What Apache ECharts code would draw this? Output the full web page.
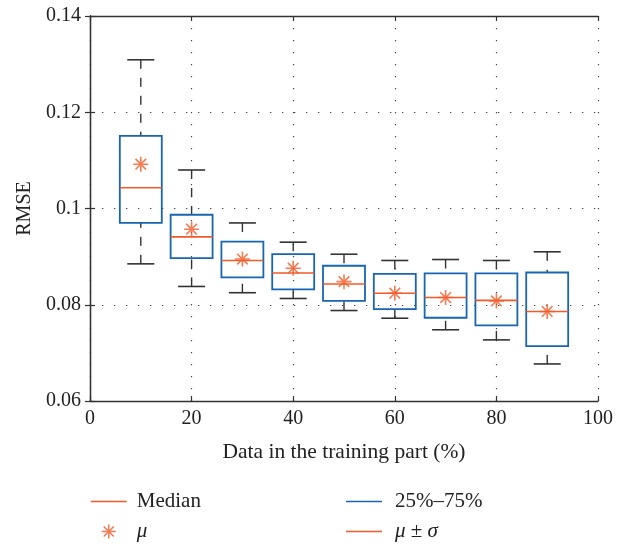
<!DOCTYPE html>
<html>
<head>
<meta charset="utf-8">
<script src="https://cdn.jsdelivr.net/npm/echarts@6/dist/echarts.min.js"></script>
<style>html,body{margin:0;padding:0;background:#fff}#c{width:623px;height:544px}</style>
</head>
<body>
<div id="c"></div>
<script>
// ---- data ----
const trainingPct   = [10, 20, 30, 40, 50, 60, 70, 80, 90];
const upperWhisker  = [0.1309, 0.1080, 0.0970, 0.0930, 0.0905, 0.0892, 0.0894, 0.0892, 0.0910];
const q3Values      = [0.1151, 0.0987, 0.0931, 0.0905, 0.0881, 0.0864, 0.0865, 0.0865, 0.0867];
const medianValues  = [0.1043, 0.0941, 0.0892, 0.0866, 0.0843, 0.0824, 0.0815, 0.0809, 0.0786];
const meanValues    = [0.1092, 0.0957, 0.0895, 0.0876, 0.0848, 0.0824, 0.0815, 0.0808, 0.0786];
const q1Values      = [0.0970, 0.0897, 0.0857, 0.0832, 0.0808, 0.0791, 0.0773, 0.0757, 0.0714];
const lowerWhisker  = [0.0885, 0.0838, 0.0825, 0.0813, 0.0788, 0.0772, 0.0748, 0.0727, 0.0677];
const xTicks = [0, 20, 40, 60, 80, 100];
const yTicks = [0.06, 0.08, 0.1, 0.12, 0.14];

// ---- styles ----
const ORANGE = '#f25a28';
const BLUE = '#1866b0';
const AXIS = '#333333';
const FONT = 'Liberation Serif';
const BOX_HALF = 4.13;   // half box width, in x-axis units
const CAP_HALF = 2.66;   // half cap width, in x-axis units

const rows = trainingPct.map((x, i) => [x, lowerWhisker[i], q1Values[i], medianValues[i], q3Values[i], upperWhisker[i]]);
const meanPts = trainingPct.map((x, i) => [x, meanValues[i]]);

const asterisk = 'path://M0,-10L0,10M-10,0L10,0M-7.07,-7.07L7.07,7.07M-7.07,7.07L7.07,-7.07';
const lineIcon = 'path://M0,0M36,14M0,6.25L36,6.25L36,7.75L0,7.75Z';
const starIcon = 'path://M0,0M36,14M18,0L18,14M11,7L25,7M13,2L23,12M13,12L23,2';

function whiskers(params, api) {
  const x = api.value(0);
  const pLo = api.coord([x, api.value(1)]);
  const pQ1 = api.coord([x, api.value(2)]);
  const pQ3 = api.coord([x, api.value(4)]);
  const pHi = api.coord([x, api.value(5)]);
  const hw = api.size([CAP_HALF, 0])[0];
  const dash = {stroke: AXIS, lineWidth: 1.4, lineDash: [9, 9]};
  const solid = {stroke: AXIS, lineWidth: 1.6};
  return {type: 'group', children: [
    {type: 'line', shape: {x1: pHi[0], y1: pHi[1], x2: pQ3[0], y2: pQ3[1]}, style: dash},
    {type: 'line', shape: {x1: pLo[0], y1: pLo[1], x2: pQ1[0], y2: pQ1[1]}, style: dash},
    {type: 'line', shape: {x1: pHi[0] - hw, y1: pHi[1], x2: pHi[0] + hw, y2: pHi[1]}, style: solid},
    {type: 'line', shape: {x1: pLo[0] - hw, y1: pLo[1], x2: pLo[0] + hw, y2: pLo[1]}, style: solid}
  ]};
}
function boxes(params, api) {
  const x = api.value(0);
  const pQ1 = api.coord([x, api.value(2)]);
  const pQ3 = api.coord([x, api.value(4)]);
  const hw = api.size([BOX_HALF, 0])[0];
  return {type: 'rect', shape: {x: pQ3[0] - hw, y: pQ3[1], width: 2 * hw, height: pQ1[1] - pQ3[1]},
          style: {fill: 'none', stroke: BLUE, lineWidth: 1.8}};
}
function medians(params, api) {
  const x = api.value(0);
  const p = api.coord([x, api.value(3)]);
  const hw = api.size([BOX_HALF, 0])[0];
  return {type: 'line', shape: {x1: p[0] - hw, y1: p[1], x2: p[0] + hw, y2: p[1]},
          style: {stroke: ORANGE, lineWidth: 1.6}};
}

const labelStyle = {fontFamily: FONT, fontSize: 20, color: '#222'};
const titleStyle = {fontFamily: FONT, fontSize: 21.5, color: '#222'};
const legendText = {fontFamily: FONT, fontSize: 21, color: '#222'};
const baseAxisLine = {show: true, lineStyle: {color: AXIS, width: 1.3}};
const tickIn = {show: true, inside: true, length: 5, lineStyle: {color: AXIS, width: 1.2}};
const dotted = {show: true, lineStyle: {color: '#444', width: 1.2, type: [1.3, 10.7]}};

const chart = echarts.init(document.getElementById('c'), null, {renderer: 'canvas'});
chart.setOption({
  animation: false,
  backgroundColor: '#fff',
  grid: {left: 90, right: 25, top: 16, bottom: 143},
  xAxis: [
    {type: 'value', min: xTicks[0], max: xTicks[xTicks.length - 1], interval: 20, position: 'bottom',
     name: 'Data in the training part (%)', nameLocation: 'middle', nameGap: 40,
     nameTextStyle: titleStyle,
     axisLine: baseAxisLine, axisTick: tickIn, axisLabel: Object.assign({margin: 8}, labelStyle),
     splitLine: dotted},
    {type: 'value', min: xTicks[0], max: xTicks[xTicks.length - 1], interval: 20, position: 'top',
     axisLine: baseAxisLine, axisTick: tickIn, axisLabel: {show: false}, splitLine: {show: false}}
  ],
  yAxis: [
    {type: 'value', min: yTicks[0], max: yTicks[yTicks.length - 1], interval: 0.02, position: 'left',
     name: 'RMSE', nameLocation: 'middle', nameGap: 54, nameTextStyle: labelStyle,
     axisLine: baseAxisLine, axisTick: tickIn,
     axisLabel: Object.assign({margin: 9, formatter: v => String(+v.toFixed(2))}, labelStyle),
     splitLine: dotted},
    {type: 'value', min: yTicks[0], max: yTicks[yTicks.length - 1], interval: 0.02, position: 'right',
     axisLine: baseAxisLine, axisTick: tickIn, axisLabel: {show: false}, splitLine: {show: false}}
  ],
  legend: [
    {left: 90, top: 491, height: 60, orient: 'vertical', itemWidth: 36, itemHeight: 14, itemGap: 9,
     padding: 0, selectedMode: false,
     textStyle: Object.assign({padding: [0, 0, 0, 5], rich: {i: Object.assign({fontStyle: 'italic'}, legendText)}}, legendText),
     formatter: n => n === 'μ' ? '{i|μ}' : n,
     data: [
       {name: 'Median', icon: lineIcon, itemStyle: {color: ORANGE, borderWidth: 0}},
       {name: 'μ', icon: starIcon, itemStyle: {color: 'rgba(0,0,0,0)', borderColor: ORANGE, borderWidth: 1.5}}
     ]},
    {left: 346, top: 491, height: 60, orient: 'vertical', itemWidth: 36, itemHeight: 14, itemGap: 9,
     padding: 0, selectedMode: false,
     textStyle: Object.assign({padding: [0, 0, 0, 8], rich: {i: Object.assign({fontStyle: 'italic'}, legendText), n: legendText}}, legendText),
     formatter: n => n === 'μ ± σ' ? '{i|μ}{n| ± }{i|σ}' : n,
     data: [
       {name: '25%–75%', icon: lineIcon, itemStyle: {color: BLUE, borderWidth: 0}},
       {name: 'μ ± σ', icon: lineIcon, itemStyle: {color: ORANGE, borderWidth: 0}}
     ]}
  ],
  series: [
    {type: 'custom', name: 'whiskers', renderItem: whiskers, data: rows, encode: {x: 0, y: [1, 5]}, z: 2},
    {type: 'custom', name: '25%–75%', renderItem: boxes, data: rows, encode: {x: 0, y: [2, 4]}, z: 3,
     itemStyle: {color: BLUE}},
    {type: 'custom', name: 'Median', renderItem: medians, data: rows, encode: {x: 0, y: 3}, z: 4,
     itemStyle: {color: ORANGE}},
    {type: 'scatter', name: 'μ', data: meanPts, symbol: asterisk, symbolSize: 15, z: 5,
     itemStyle: {color: 'rgba(0,0,0,0)', borderColor: ORANGE, borderWidth: 1.6}},
    {type: 'line', name: 'μ ± σ', data: [], itemStyle: {color: ORANGE}, lineStyle: {color: ORANGE}}
  ]
});
</script>
</body>
</html>
